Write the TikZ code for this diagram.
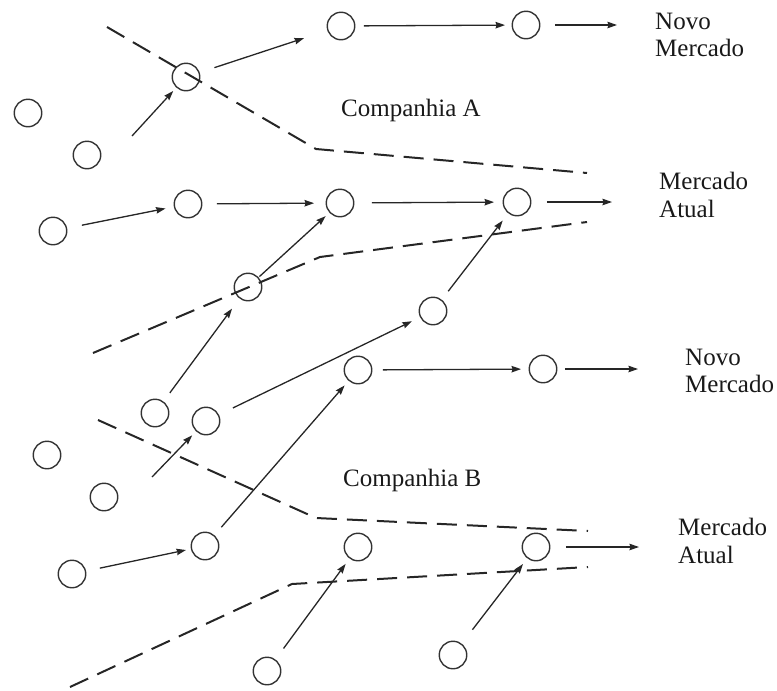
\documentclass[tikz,border=0pt]{standalone}
\usepackage{fontspec}
\setmainfont{Liberation Serif}
\newfontfamily\lblfont{Liberation Serif}
\usetikzlibrary{arrows.meta}
\tikzset{
  firm/.style={circle, draw=black!80, line width=1.4pt,
               minimum size=27.5pt, inner sep=0pt},
  flow/.style={-{Stealth[length=9.5pt,width=6.5pt,inset=1pt]},
               line width=1.3pt, draw=black!85},
  bound/.style={line width=2pt, dash pattern=on 20pt off 10pt, draw=black!85},
  lbl/.style={font=\lblfont\fontsize{25}{27.5}\selectfont, inner sep=0pt,
              align=left, anchor=west, text=black!90},
}

\begin{document}
\begin{tikzpicture}[x=1pt, y=-1pt]
  \useasboundingbox (0,0) rectangle (777,691);
  % firms
  \foreach \x/\y [count=\i] in {341/26, 526/25, 186/77, 28/113, 87/155,
      188/204, 340/203, 517/202, 53/231, 248/287, 433/311, 358/370,
      543/369, 155/413, 206/421, 47/455, 104/497, 205/546, 72/574,
      358/547, 536/547, 267/671, 453/655}
    \node[firm] (c\i) at (\x,\y) {};
  % markets and companies
  \node[lbl] (nmA) at (655,35) {Novo\\Mercado};
  \node[lbl] (maA) at (659,195) {Mercado\\Atual};
  \node[lbl] (nmB) at (685,371) {Novo\\Mercado};
  \node[lbl] (maB) at (678,541) {Mercado\\Atual};
  \node[lbl, anchor=base west] (coA) at (341,116) {Companhia A};
  \node[lbl, anchor=base west] (coB) at (343,486) {Companhia B};
  \coordinate (inA) at (132,136);
  \coordinate (inB) at (152,477);
  % boundaries
  \draw[bound] (107,27) -- (316,149) -- (587,173);
  \draw[bound] (93,353) -- (320,257) -- (587,222);
  \draw[bound] (98,420) -- (316,518) -- (588,531);
  \draw[bound] (70,687) -- (292,584) -- (588,567);
  % moves
  \foreach \a/\b/\s/\e in {inA/c3/0/4.5, c3/c1/15.5/24.5, c1/c2/8.5/6.5,
      c9/c6/15/8.5, c6/c7/14.5/11.5, c7/c8/17.5/8.5, c10/c7/1/5,
      c14/c10/10.5/12.5, c15/c11/15.5/9, c11/c8/10.5/9, c12/c13/10.5/7.5,
      inB/c15/0/5.5, c19/c18/14/5, c18/c12/10.5/6, c22/c20/13.5/6.5,
      c23/c21/17.5/7}
    \draw[flow, shorten <=\s pt, shorten >=\e pt] (\a) -- (\b);
  \foreach \a/\b/\s/\e in {c2/nmA/14.5/38, c8/maA/15.5/47,
      c13/nmB/7.5/47, c21/maB/15.5/39}
    \draw[flow, shorten <=\s pt, shorten >=\e pt] (\a) -- (\a -| \b.west);
\end{tikzpicture}
\end{document}
